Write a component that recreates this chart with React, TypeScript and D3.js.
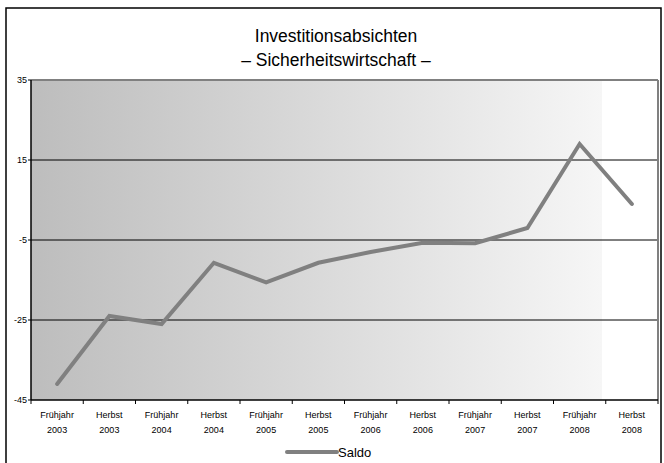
import React from "react";
import * as d3 from "d3";

const categories = [
  ["Frühjahr", "2003"], ["Herbst", "2003"], ["Frühjahr", "2004"], ["Herbst", "2004"],
  ["Frühjahr", "2005"], ["Herbst", "2005"], ["Frühjahr", "2006"], ["Herbst", "2006"],
  ["Frühjahr", "2007"], ["Herbst", "2007"], ["Frühjahr", "2008"], ["Herbst", "2008"],
];
const saldo = [-41, -24, -26, -10.7, -15.6, -10.7, -8, -5.7, -5.8, -2, 19, 4];
const yTicks = [35, 15, -5, -25, -45];
const titleLines = ["Investitionsabsichten", "– Sicherheitswirtschaft –"];
const seriesName = "Saldo";

const W = 664, H = 463;
const font = "'Liberation Sans Narrow', 'Arial Narrow', 'Liberation Sans', sans-serif";

export default function App() {
  const left = 31, right = 658, top = 80, bottom = 400;
  const x = d3.scaleBand<number>().domain(d3.range(categories.length)).range([left, right]);
  const y = d3.scaleLinear().domain([-45, 35]).range([bottom, top]);
  const line = d3.line<number>().x((_, i) => (x(i) as number) + x.bandwidth() / 2).y((d) => y(d));
  const boundaries = d3.range(categories.length + 1).map((i) => left + i * x.step());

  return (
    <svg width={W} height={H} style={{ position: "absolute", left: 0, top: 0 }}>
      <defs>
        <linearGradient id="bg" x1="0" x2="1" y1="0" y2="0">
          <stop offset="0" stopColor="#bdbdbd" />
          <stop offset="0.91" stopColor="#f6f6f6" />
          <stop offset="0.911" stopColor="#ffffff" />
          <stop offset="1" stopColor="#ffffff" />
        </linearGradient>
      </defs>
      <rect x={0} y={0} width={W} height={H} fill="#fff" />
      <rect x={6} y={8} width={655} height={470} fill="#fff" stroke="#000" strokeWidth={1.5} />
      {titleLines.map((t, i) => (
        <text key={i} x={336} y={42 + i * 24} textAnchor="middle" fontFamily={font} fontSize={17.5} fill="#000">{t}</text>
      ))}
      <rect x={left} y={top} width={right - left} height={bottom - top} fill="url(#bg)" />
      {yTicks.filter((t) => t !== 35 && t !== -45).map((t) => (
        <line key={t} x1={left} x2={right} y1={y(t)} y2={y(t)} stroke="#000" strokeWidth={1} />
      ))}
      <line x1={left} x2={right} y1={top} y2={top} stroke="#808080" strokeWidth={2} />
      <line x1={right} x2={right} y1={top} y2={bottom} stroke="#808080" strokeWidth={2} />
      <line x1={left} x2={left} y1={top} y2={bottom} stroke="#000" strokeWidth={1.5} />
      <line x1={left} x2={right} y1={bottom} y2={bottom} stroke="#000" strokeWidth={1.5} />
      {yTicks.map((t) => (
        <g key={t}>
          <line x1={left - 3} x2={left} y1={y(t)} y2={y(t)} stroke="#000" />
          <text x={left - 4} y={y(t)} dy="0.35em" textAnchor="end" fontFamily={font} fontSize={9} fill="#000">{t}</text>
        </g>
      ))}
      {boundaries.map((b, i) => (
        <line key={i} x1={b} x2={b} y1={bottom} y2={bottom + 4} stroke="#000" />
      ))}
      {categories.map((c, i) => (
        <text key={i} x={(x(i) as number) + x.bandwidth() / 2} y={418} textAnchor="middle" fontFamily={font} fontSize={9} fill="#000">
          <tspan x={(x(i) as number) + x.bandwidth() / 2} dy={0}>{c[0]}</tspan>
          <tspan x={(x(i) as number) + x.bandwidth() / 2} dy={15}>{c[1]}</tspan>
        </text>
      ))}
      <path d={line(saldo) || ""} fill="none" stroke="#808080" strokeWidth={4} strokeLinejoin="miter" strokeLinecap="round" />
      <line x1={287} x2={337} y1={452} y2={452} stroke="#808080" strokeWidth={4} strokeLinecap="round" />
      <text x={338} y={452} dy="0.35em" fontFamily={font} fontSize={13} fill="#000">{seriesName}</text>
    </svg>
  );
}
